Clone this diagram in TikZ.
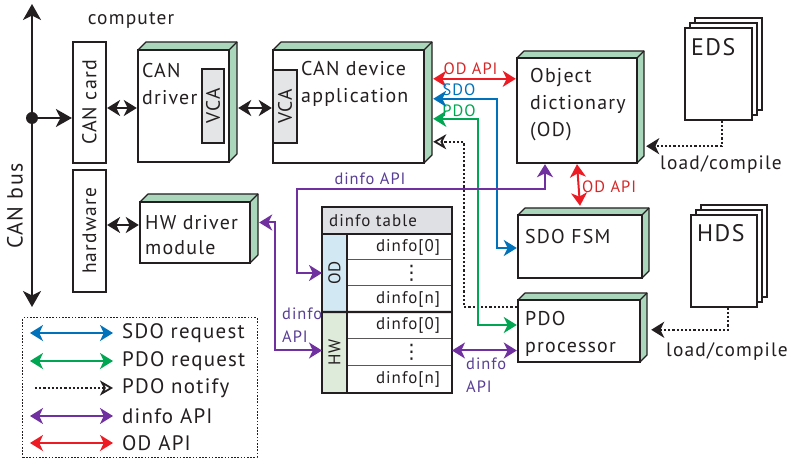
\documentclass[tikz,border=0pt]{standalone}
\usepackage{fontspec}
\setmainfont[LetterSpace=6]{PT Sans}
\newfontfamily\symfont{DejaVu Sans}
\usetikzlibrary{arrows.meta,calc}

\definecolor{sidegreen}{RGB}{170,215,188}
\definecolor{vcagray}{RGB}{228,229,231}
\definecolor{hdrgray}{RGB}{222,224,228}
\definecolor{odblue}{RGB}{210,232,242}
\definecolor{hwgreen}{RGB}{222,234,218}
\definecolor{apiblue}{RGB}{0,114,188}
\definecolor{apigreen}{RGB}{0,166,81}
\definecolor{apipurple}{RGB}{112,48,160}
\definecolor{apired}{RGB}{237,28,36}
\definecolor{redtext}{RGB}{214,40,40}
\definecolor{purtext}{RGB}{88,62,148}
\definecolor{ink}{RGB}{35,31,32}

\tikzset{
  hd/.tip={Stealth[length=13bp,width=16bp,inset=3.8bp]},
  bighd/.tip={Stealth[length=16bp,width=18bp,inset=4.5bp]},
  openhd/.tip={Stealth[open,length=13bp,width=15bp,inset=3.8bp,line width=1.8bp]},
  frontface/.style={draw=ink,line width=2.4bp,fill=white,inner sep=0},
  sideface/.style={fill=sidegreen,draw=ink,line width=1.2bp,line join=round},
  plainbox/.style={draw=ink,line width=2.2bp,fill=white,inner sep=0},
  vcabox/.style={draw=ink,line width=2bp,fill=vcagray,inner sep=0},
  boxtext/.style={align=left,inner sep=0,text=ink,font=\fontsize{20}{27}\selectfont},
  dblarrow/.style={draw=ink,line width=2bp,hd-hd},
  sdoline/.style={draw=apiblue,line width=2bp,hd-hd},
  pdoline/.style={draw=apigreen,line width=2bp,hd-hd},
  dinfoline/.style={draw=apipurple,line width=2bp,hd-hd},
  odline/.style={draw=apired,line width=2bp,hd-hd},
  notifyline/.style={draw=ink,line width=2bp,dash pattern=on 2.2bp off 2bp,-openhd},
  loadline/.style={draw=ink,line width=2bp,dash pattern=on 2.2bp off 2bp,-hd},
  apilabel/.style={inner sep=0,font=\fontsize{16.5}{23}\selectfont},
  cell/.style={draw=ink!75,line width=1bp,inner sep=0,outer sep=0},
  celltext/.style={inner sep=0,text=ink,font=\fontsize{17}{20}\selectfont},
  tableedge/.style={draw=ink,line width=2.4bp},
  legtext/.style={anchor=west,inner sep=0,text=ink,font=\fontsize{21}{24}\selectfont},
  page/.style={draw=ink,line width=1.3bp,fill=white,inner sep=0},
  loadtext/.style={inner sep=0,font=\fontsize{19.5}{22}\selectfont},
}

% a box with a green extruded side: name, left, top, width, height, depth
\newcommand\greenbox[6]{%
  \filldraw[sideface] (#2,#3) -- ++(#6,-#6) -- ++(#4,0) -- ++(0,#5)
    -- ++(-#6,#6) -- ++(0,-#5) -- cycle;
  \draw[sideface,fill=none] (#2+#4,#3) -- ++(#6,-#6);
  \node[frontface,minimum width=#4bp,minimum height=#5bp]
    (#1) at (#2+#4/2,#3+#5/2) {};
}

% a stack of three sheets: name, left, top, width, height
\newcommand\sheetstack[5]{%
  \node[page,minimum width=#4bp,minimum height=#5bp] (#1c) at (#2+#4/2+10,#3+#5/2-10) {};
  \node[page,minimum width=#4bp,minimum height=#5bp] (#1b) at (#2+#4/2+5,#3+#5/2-5) {};
  \node[page,minimum width=#4bp,minimum height=#5bp] (#1) at (#2+#4/2,#3+#5/2) {};
}

\begin{document}
\begin{tikzpicture}[x=1bp,y=-1bp,text=ink]
\useasboundingbox (0,0) rectangle (793,460);

% ---------------- CAN bus ----------------
\coordinate (bustop) at (32,4);
\coordinate (busbot) at (32,307);
\draw[draw=ink,line width=2.4bp,bighd-bighd] (bustop) -- (busbot);
\node[circle,fill=ink,inner sep=0,minimum size=12bp] (tap) at (32,118) {};
\node[rotate=90,inner sep=0,font=\fontsize{22}{26}\selectfont] (buslabel) at (15,206) {CAN bus};

\node[inner sep=0,font=\fontsize{19.5}{22}\selectfont] (computer) at (131,20) {computer};

% ---------------- interface boxes ----------------
\node[plainbox,minimum width=33bp,minimum height=121bp] (card) at (89.5,102.5) {};
\node[rotate=90,inner sep=0,font=\fontsize{20}{22}\selectfont] (cardtxt) at (card) {CAN card};
\node[plainbox,minimum width=33bp,minimum height=122bp] (hw) at (89.5,231) {};
\node[rotate=90,inner sep=0,font=\fontsize{19.5}{22}\selectfont] (hwtxt) at (hw) {hardware};

\draw[draw=ink,line width=2bp,-bighd] (tap) -- (tap -| card.west);

% ---------------- software blocks ----------------
\greenbox{drv}{138}{50}{91}{112}{8}
\greenbox{app}{273}{50}{151}{113}{8}
\greenbox{od}{517}{58}{120}{105}{7}
\greenbox{hwd}{140}{202}{110}{61}{8}
\greenbox{sdo}{518}{215}{124}{63}{7}
\greenbox{pdo}{518}{300}{122}{62}{7}

\node[vcabox,minimum width=22bp,minimum height=74bp] (vcaA) at (213,106) {};
\node[rotate=90,inner sep=0,font=\fontsize{19.5}{22}\selectfont] (vcaAtxt) at (vcaA) {VCA};
\node[vcabox,minimum width=24bp,minimum height=73bp] (vcaB) at (285,106.5) {};
\node[rotate=90,inner sep=0,font=\fontsize{19.5}{22}\selectfont] (vcaBtxt) at (vcaB) {VCA};

\node[boxtext,anchor=west] (drvtxt) at (142,84) {CAN\\driver};
\node[boxtext,anchor=west] (apptxt) at (301,84) {CAN device\\application};
\node[boxtext,anchor=west] (odtxt) at (530,105) {Object\\dictionary\\(OD)};
\node[boxtext,anchor=west,font=\fontsize{20}{25}\selectfont] (hwdtxt) at (145,235) {HW driver\\module};
\node[boxtext,anchor=west] (sdotxt) at (525,237) {SDO FSM};
\node[boxtext,anchor=west] (pdotxt) at (525,334) {PDO\\processor};

% ---------------- description files ----------------
\sheetstack{eds}{685}{28}{67}{92}
\sheetstack{hds}{691}{215}{66}{92}
\node[anchor=west,inner sep=0,font=\fontsize{24}{28}\selectfont] (edstxt) at (691,47) {EDS};
\node[anchor=west,inner sep=0,font=\fontsize{24}{28}\selectfont] (hdstxt) at (697,233) {HDS};

\draw[loadline] ($(eds.south)+(3,0)$) |- ($(od.south east)+(8,-18)$);
\node[loadtext] (edsload) at (721,165) {load/compile};
\draw[loadline] ($(hds.south)+(4,0)$) |- ($(pdo.north east)+(10,31)$);
\node[loadtext] (hdsload) at (727,352) {load/compile};

% ---------------- dinfo table ----------------
\node[cell,fill=hdrgray,minimum width=130bp,minimum height=27bp] (hdr) at (387,220.5) {};
\node[celltext] (hdrtxt) at (373,221) {dinfo table};
\node[cell,fill=odblue,minimum width=25bp,minimum height=78bp] (odcol) at (334.5,273) {};
\node[cell,fill=hwgreen,minimum width=25bp,minimum height=81bp] (hwcol) at (334.5,352.5) {};
\node[celltext,rotate=90] (odcoltxt) at (odcol) {OD};
\node[celltext,rotate=90] (hwcoltxt) at (hwcol) {HW};
\foreach \r/\cy/\h in {r1/247/26,r2/273/26,r3/299/26,r4/325.5/27,r5/352.5/27,r6/379.5/27}
  \node[cell,fill=white,minimum width=105bp,minimum height=\h bp] (\r) at (399.5,\cy) {};
\foreach \r/\t in {r1/dinfo[0],r3/dinfo[n],r4/dinfo[0],r6/dinfo[n]}
  \node[celltext] (\r txt) at ($(\r)+(8.5,0)$) {\t};
\foreach \r in {r2,r5}
  \node[celltext,font=\symfont\fontsize{20}{22}\selectfont] (\r txt) at ($(\r)+(12,0)$) {⋮};
\draw[tableedge] (hdr.south west) -- (hdr.south east);
\draw[tableedge] (odcol.north east) -- (hwcol.south east);
\draw[tableedge] (hwcol.north west) -- (r4.north east);
\draw[tableedge] (hdr.north west) rectangle (r6.south east);

% ---------------- black connectors ----------------
\draw[dblarrow] (card.east |- 0,108) -- (drv.west |- 0,108);
\coordinate (drvside) at ($(drv.east)+(8,2)$);
\draw[dblarrow] (drvside) -- (drvside -| app.west);
\draw[dblarrow] (hw.east |- 0,225) -- (hwd.west |- 0,225);

% ---------------- API connectors ----------------
\coordinate (appod) at ($(app.north east)+(8,30)$);
\coordinate (appsdo) at ($(app.north east)+(8,50)$);
\coordinate (apppdo) at ($(app.north east)+(8,70)$);
\coordinate (appnote) at ($(app.north east)+(8,93)$);

\draw[odline] (appod) -- (appod -| od.west);
\node[apilabel,text=redtext] (odapiA) at (470.5,69) {OD API};
\draw[odline] (od.south) -- ($(sdo.north)+(0,-8)$);
\node[apilabel,text=redtext,anchor=west] (odapiB) at (582,187) {OD API};

\draw[notifyline] ($(pdo.north west)+(0,8)$) -- ++(-53,0) |- (appnote);
\draw[pdoline] ($(pdo.west)+(0,-6)$) -- ++(-39,0) |- (apppdo);
\node[apilabel,text=apigreen] (pdolab) at (459,111) {PDO};
\draw[sdoline] ($(sdo.west)+(0,1.5)$) -- ++(-20,0) |- (appsdo);
\node[apilabel,text=apiblue] (sdolab) at (459,90) {SDO};

\coordinate (dinfoturn) at (545,189);
\draw[dinfoline] (odcol.west) -- ++(-25,0) |- (dinfoturn) -- (dinfoturn |- od.south);
\node[apilabel,text=purtext] (dinfoA) at (370,179) {dinfo API};
\draw[dinfoline] ($(hwcol.west)+(0,-2)$) -- ++(-47,0) |- ($(hwd.east)+(8,-10)$);
\node[apilabel,text=purtext,anchor=west,align=left] (dinfoB) at (282,325) {dinfo\\API};
\draw[dinfoline] ($(r5.east)+(0,-2)$) -- ($(r5.east -| pdo.west)+(0,-2)$);
\node[apilabel,text=purtext,anchor=west,align=left] (dinfoC) at (466,375) {dinfo\\API};

% ---------------- legend ----------------
\node[draw=ink,line width=1bp,dash pattern=on 1.6bp off 1.6bp,minimum width=234bp,minimum height=139bp,inner sep=0] (legend) at (140,387.5) {};
\coordinate (lg1a) at (30,333);  \coordinate (lg1b) at (113,333);
\coordinate (lg2a) at (30,361);  \coordinate (lg2b) at (113,361);
\coordinate (lg3a) at (35,388);  \coordinate (lg3b) at (113,388);
\coordinate (lg4a) at (30,416);  \coordinate (lg4b) at (113,416);
\coordinate (lg5a) at (30,443);  \coordinate (lg5b) at (113,443);
\draw[sdoline] (lg1a) -- (lg1b);
\draw[pdoline] (lg2a) -- (lg2b);
\draw[notifyline] (lg3a) -- (lg3b);
\draw[dinfoline] (lg4a) -- (lg4b);
\draw[odline] (lg5a) -- (lg5b);
\node[legtext] (lg1t) at (122,333) {SDO request};
\node[legtext] (lg2t) at (122,361) {PDO request};
\node[legtext] (lg3t) at (122,388) {PDO notify};
\node[legtext] (lg4t) at (122,416) {dinfo API};
\node[legtext] (lg5t) at (122,443) {OD API};
\end{tikzpicture}
\end{document}
